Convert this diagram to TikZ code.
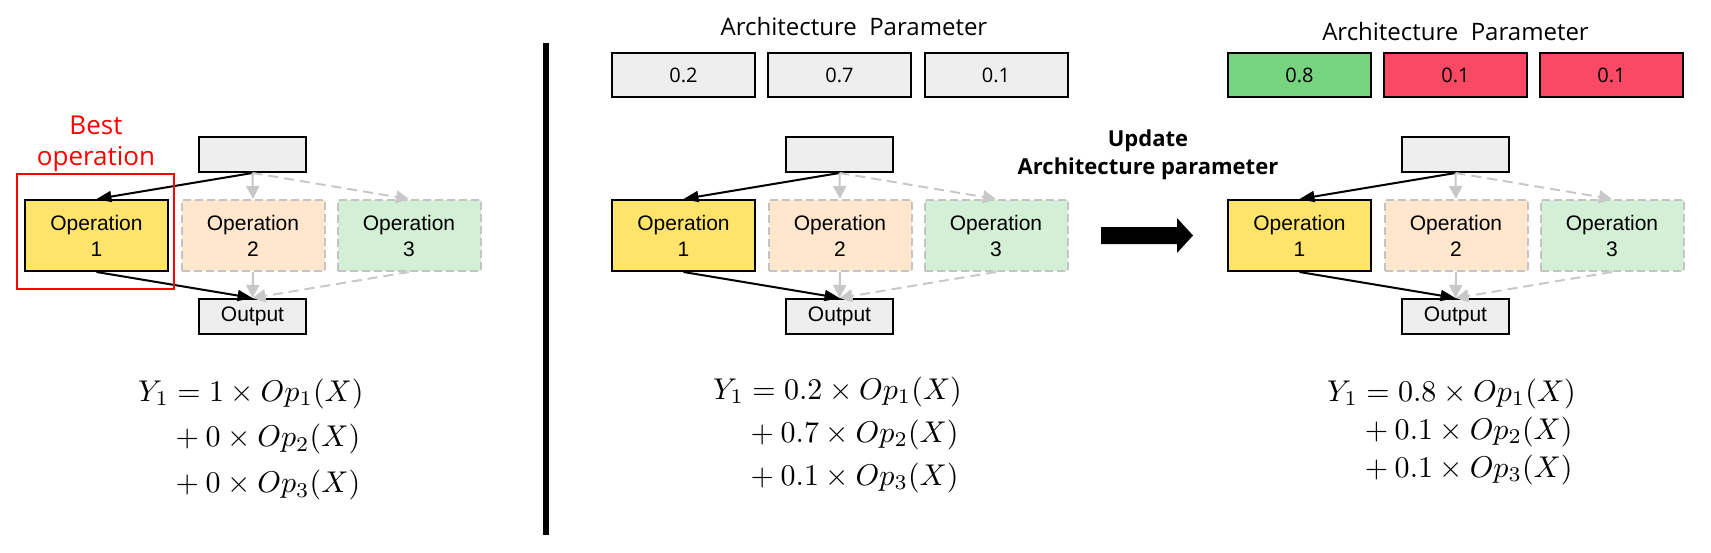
\documentclass[tikz,border=0pt]{standalone}
\usepackage{amsmath}
\usepackage{graphicx}
\usepackage{fontspec}
\newfontfamily\arialf{Liberation Sans}
\newfontfamily\osans{Open Sans}
\usetikzlibrary{arrows.meta}
\definecolor{boxgray}{HTML}{EEEEEE}
\definecolor{op1c}{HTML}{FFE46B}
\definecolor{op2c}{HTML}{FFE6CC}
\definecolor{op3c}{HTML}{D3EFD6}
\definecolor{dashgray}{HTML}{C4C4C4}
\definecolor{arrgray}{HTML}{C8C8C8}
\definecolor{pgreen}{HTML}{76D37F}
\definecolor{pred}{HTML}{F94964}
\definecolor{bestred}{HTML}{FF0000}
\begin{document}
\begin{tikzpicture}[x=1pt,y=-1pt,
  iobox/.style={draw=black, line width=2pt, fill=boxgray, inner sep=0pt,
    minimum width=107pt, minimum height=35pt, font=\arialf\fontsize{21}{26}\selectfont},
  opbox/.style={inner sep=0pt, minimum width=143pt, minimum height=71pt, align=center,
    font=\arialf\fontsize{21}{26}\selectfont},
  opsel/.style={opbox, draw=black, line width=2pt, fill=op1c},
  opdash/.style={opbox, draw=dashgray, line width=2pt, dash pattern=on 8pt off 4pt},
  parbox/.style={draw=black, line width=2pt, minimum width=143pt, minimum height=44pt,
    inner sep=0pt, font=\osans\fontsize{20}{24}\selectfont},
  blk/.style={draw=black, line width=2pt, -{Triangle[length=15pt,width=11pt]}},
  gry/.style={draw=arrgray, line width=2pt, -{Triangle[length=13pt,width=13pt]}},
  gryd/.style={gry, dash pattern=on 10pt off 6pt},
  eqn/.style={inner sep=0pt, anchor=base west, font=\fontsize{10}{12}\selectfont},
  ttl/.style={inner sep=0pt, anchor=base, font=\osans\fontsize{24}{29}\selectfont},
]
\useasboundingbox (0,0) rectangle (1711,552);

% three panels
\foreach \p/\dx in {L/0,M/587,R/1203} {
  \begin{scope}[xshift=\dx pt]
    \node[iobox] (\p-in) at (252.5,154.5) {};
    \node[opsel] (\p-op1) at (96.5,235.5) {Operation\\1};
    \node[opdash, fill=op2c] (\p-op2) at (253,235.5) {Operation\\2};
    \node[opdash, fill=op3c] (\p-op3) at (409,235.5) {Operation\\3};
    \node[iobox] (\p-out) at (252.5,316.5) {Output};
    \draw[blk] (\p-in.south) -- (\p-op1.north);
    \draw[blk] (\p-op1.south) -- (\p-out.north);
    \draw[gry] (\p-in.south) -- (\p-op2.north);
    \draw[gryd] (\p-in.south) -- (\p-op3.north);
    \draw[gry] (\p-op2.south) -- (\p-out.north);
    \draw[gryd] (\p-op3.south) -- (\p-out.north);
  \end{scope}
}

% best operation highlight
\draw[bestred, line width=2pt] (17,174) rectangle (174,289);
\node[text=bestred, align=center, inner sep=0pt, font=\osans\fontsize{26}{31}\selectfont]
  (best) at (96,144.3) {Best\\operation};

% separator
\draw[line width=5.5pt] (546,43) -- (546,535);

% architecture parameters (middle)
\node[ttl] (M-title) at (854,35) {Architecture\ \ Parameter};
\node[parbox, fill=boxgray] (M-a1) at (683.5,75) {0.2};
\node[parbox, fill=boxgray] (M-a2) at (839.5,75) {0.7};
\node[parbox, fill=boxgray] (M-a3) at (996,75) {0.1};

% architecture parameters (right)
\node[ttl] (R-title) at (1455.5,40) {Architecture\ \ Parameter};
\node[parbox, fill=pgreen] (R-a1) at (1299.5,75) {0.8};
\node[parbox, fill=pred] (R-a2) at (1455.5,75) {0.1};
\node[parbox, fill=pred] (R-a3) at (1611.5,75) {0.1};

% update arrow
\node[align=center, inner sep=0pt, font=\osans\bfseries\fontsize{22}{28}\selectfont]
  (upd) at (1148,155) {Update\\Architecture parameter};
\fill[black] (1101,227) -- (1177,227) -- (1177,218) -- (1193,235.5) -- (1177,253)
  -- (1177,244) -- (1101,244) -- cycle;

% equations
\node[eqn] (L-eq) at (138,401) {\scalebox{3}{$\begin{aligned}[t]Y_1 &= 1 \times Op_1(X)\\[0.3pt] &+ 0 \times Op_2(X)\\[0.3pt] &+ 0 \times Op_3(X)\end{aligned}$}};
\node[eqn] (M-eq) at (713,399) {\scalebox{3}{$\begin{aligned}[t]Y_1 &= 0.2 \times Op_1(X)\\[-0.6pt] &+ 0.7 \times Op_2(X)\\[-0.6pt] &+ 0.1 \times Op_3(X)\end{aligned}$}};
\node[eqn] (R-eq) at (1327,401) {\scalebox{3}{$\begin{aligned}[t]Y_1 &= 0.8 \times Op_1(X)\\[-2.3pt] &+ 0.1 \times Op_2(X)\\[-2.3pt] &+ 0.1 \times Op_3(X)\end{aligned}$}};
\end{tikzpicture}
\end{document}
